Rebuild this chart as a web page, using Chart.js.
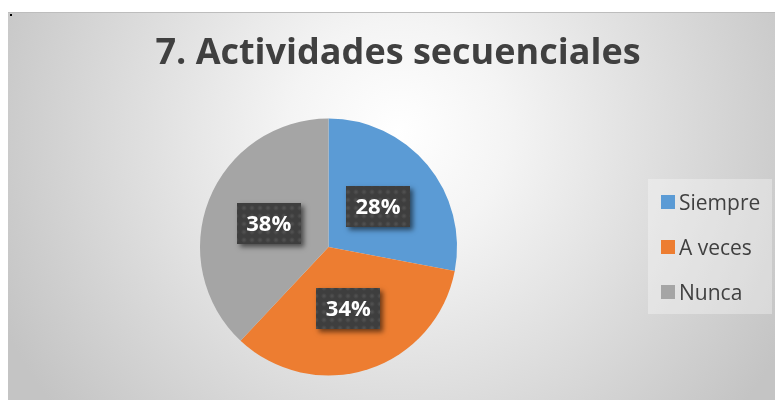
<!DOCTYPE html>
<html>
<head>
<meta charset="utf-8">
<script src="https://cdn.jsdelivr.net/npm/chart.js@4.4.1/dist/chart.umd.min.js"></script>
<style>
  html, body { margin: 0; padding: 0; background: #ffffff; overflow: hidden; width: 775px; height: 400px; }
  #wrap { position: absolute; left: 8px; top: 12px; width: 780px; height: 400px; }
</style>
</head>
<body>
<div id="wrap"><canvas id="c" width="780" height="400"></canvas></div>
<script>
const titleText = '7. Actividades secuenciales';
const categories = ['Siempre', 'A veces', 'Nunca'];
const values = [28, 34, 38];
const colors = ['#5B9BD5', '#ED7D31', '#A5A5A5'];
const valueLabels = ['28%', '34%', '38%'];

const FONT = "'Open Sans', 'DejaVu Sans', sans-serif";

// dotted dark pattern for the data label boxes
function makePattern(ctx) {
  const t = document.createElement('canvas');
  t.width = 8; t.height = 8;
  const g = t.getContext('2d');
  g.fillStyle = '#3e3e3e';
  g.fillRect(0, 0, 8, 8);
  const rg = g.createRadialGradient(4, 4, 0, 4, 4, 3);
  rg.addColorStop(0, 'rgba(110,110,110,0.45)');
  rg.addColorStop(1, 'rgba(110,110,110,0)');
  g.fillStyle = rg;
  g.fillRect(0, 0, 8, 8);
  return ctx.createPattern(t, 'repeat');
}

const backgroundPlugin = {
  id: 'bgPlugin',
  afterLayout(chart) {
    // center the title over the whole chart frame
    const tb = chart.titleBlock;
    if (tb) { tb.left = 0; tb.right = chart.width; tb.width = chart.width; }
  },
  beforeDraw(chart) {
    const ctx = chart.ctx;
    const w = chart.width, h = chart.height;
    ctx.save();
    const g = ctx.createRadialGradient(390, 120, 0, 390, 120, 440);
    g.addColorStop(0, '#ffffff');
    g.addColorStop(0.25, '#f4f4f4');
    g.addColorStop(1, '#c4c4c4');
    ctx.fillStyle = g;
    ctx.fillRect(0, 0, w, h);
    ctx.fillStyle = '#bdbdbd';
    ctx.fillRect(0, 0, w, 1);
    ctx.fillStyle = '#000000';
    ctx.fillRect(2, 2, 2, 2);
    ctx.restore();
  }
};

const legendPlugin = {
  id: 'customLegend',
  afterDraw(chart) {
    const ctx = chart.ctx;
    const labels = chart.data.labels;
    const bg = chart.data.datasets[0].backgroundColor;
    const x0 = 653, y0 = 190, step = 45;
    ctx.save();
    ctx.fillStyle = 'rgba(255,255,255,0.32)';
    ctx.fillRect(640, 167, 124, 135);
    ctx.font = "21px " + FONT;
    ctx.textAlign = 'left';
    ctx.textBaseline = 'alphabetic';
    labels.forEach((lab, i) => {
      const cy = y0 + i * step;
      ctx.fillStyle = bg[i];
      ctx.fillRect(x0, cy - 7, 14, 14);
      ctx.fillStyle = '#404040';
      ctx.fillText(lab, x0 + 18, cy + 7.5);
    });
    ctx.restore();
  }
};

const labelPlugin = {
  id: 'valueLabels',
  afterDatasetsDraw(chart) {
    const ctx = chart.ctx;
    const meta = chart.getDatasetMeta(0);
    const pat = makePattern(ctx);
    ctx.save();
    ctx.font = "bold 22px " + FONT;
    meta.data.forEach((arc, i) => {
      const p = arc.getCenterPoint();
      const txt = valueLabels[i];
      const bw = 64, bh = 41;
      const bx = Math.round(p.x - bw / 2), by = Math.round(p.y - bh / 2);
      ctx.save();
      ctx.shadowColor = 'rgba(0,0,0,0.55)';
      ctx.shadowBlur = 5;
      ctx.shadowOffsetX = 3;
      ctx.shadowOffsetY = 3;
      ctx.fillStyle = '#3e3e3e';
      ctx.fillRect(bx, by, bw, bh);
      ctx.restore();
      ctx.fillStyle = pat;
      ctx.fillRect(bx, by, bw, bh);
      ctx.fillStyle = '#ffffff';
      ctx.textAlign = 'center';
      ctx.textBaseline = 'alphabetic';
      ctx.fillText(txt, p.x, p.y + 8);
    });
    ctx.restore();
  }
};

new Chart(document.getElementById('c'), {
  type: 'pie',
  data: {
    labels: categories,
    datasets: [{
      data: values,
      backgroundColor: colors,
      borderWidth: 0,
      hoverOffset: 0,
      offset: 0
    }]
  },
  options: {
    responsive: false,
    animation: false,
    events: [],
    devicePixelRatio: 1,
    layout: { padding: { left: 13, right: 152, top: 0, bottom: 36.5 } },
    plugins: {
      legend: { display: false },
      tooltip: { enabled: false },
      title: {
        display: true,
        text: titleText,
        color: '#404040',
        font: { family: FONT, size: 36, weight: 'bold', lineHeight: 1.2 },
        padding: { top: 20, bottom: 43.3 }
      }
    }
  },
  plugins: [backgroundPlugin, labelPlugin, legendPlugin]
});
</script>
</body>
</html>
